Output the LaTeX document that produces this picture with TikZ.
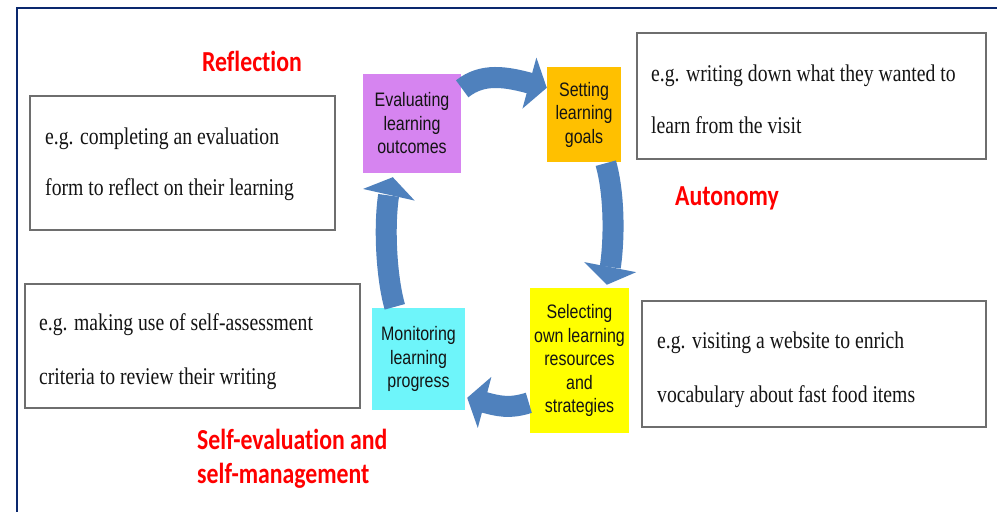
\documentclass[tikz,border=0pt]{standalone}
\usepackage{fontspec}
\setmainfont{Liberation Serif}
\newfontfamily\exfont[FakeStretch=0.82]{Liberation Serif}
\newfontfamily\boxfont[FakeStretch=0.82]{Liberation Sans}
\newfontfamily\headfont[FakeStretch=0.82,Ligatures=NoCommon]{Carlito}
\usetikzlibrary{arrows.meta,calc,bending}
\definecolor{arrowblue}{RGB}{79,129,189}
\definecolor{evalpurple}{RGB}{214,132,240}
\definecolor{setorange}{RGB}{255,192,0}
\definecolor{selyellow}{RGB}{255,255,0}
\definecolor{moncyan}{RGB}{110,245,250}
\definecolor{boxgray}{RGB}{110,110,110}
\definecolor{framenavy}{RGB}{10,40,110}
\definecolor{txtdark}{RGB}{20,20,20}
\begin{document}
\begin{tikzpicture}[x=1pt,y=-1pt,
  stepnode/.style={rectangle, inner sep=0pt, align=center, text=txtdark,
    font=\boxfont\fontsize{19.5}{23.5}\selectfont},
  exbox/.style={draw=boxgray, line width=1.5pt, inner sep=0pt, anchor=north west},
  extext/.style={inner sep=0pt, align=left, text=txtdark, anchor=base west},
  headtext/.style={inner sep=0pt, text=red, font=\headfont\bfseries\fontsize{29}{34}\selectfont},
  cyclearrow/.style={draw=arrowblue, line width=21pt, -{Triangle[length=18pt,width=52pt]}}]
\fill[white] (0,0) rectangle (997,512);
\useasboundingbox (0,0) rectangle (997,512);
\draw[framenavy, line width=2.3pt] (997,8) -- (17,8) -- (17,512);

% example boxes
\node[exbox, minimum width=305pt, minimum height=134pt] (b1) at (29,95) {};
\node[exbox, minimum width=349pt, minimum height=126pt] (b2) at (636,32) {};
\node[exbox, minimum width=335pt, minimum height=124pt] (b3) at (24,283) {};
\node[exbox, minimum width=344pt, minimum height=126pt] (b4) at (641,300) {};

% (anchor = baseline of the last line)
\node[extext, font=\exfont\fontsize{24}{51}\selectfont] (t1) at (45,195)
  {e.g. completing an evaluation\\form to reflect on their learning};
\node[extext, font=\exfont\fontsize{24}{52}\selectfont] (t2) at (651,133)
  {e.g. writing down what they wanted to\\learn from the visit};
\node[extext, font=\exfont\fontsize{24}{54}\selectfont] (t3) at (39,384)
  {e.g. making use of self-assessment\\criteria to review their writing};
\node[extext, font=\exfont\fontsize{24}{54}\selectfont] (t4) at (657,402)
  {e.g. visiting a website to enrich\\vocabulary about fast food items};

% headings
\node[headtext, anchor=base] (h1) at (252,71) {Reflection};
\node[headtext, anchor=base] (h2) at (727,205) {Autonomy};
\node[headtext, anchor=base west, align=left] (h3) at (197,483) {Self-evaluation and\\self-management};

% cycle steps
\node[stepnode, fill=evalpurple, minimum width=98pt, minimum height=99pt] (eval) at (412,123.5)
  {Evaluating\\learning\\outcomes};
\node[stepnode, fill=setorange, minimum width=74pt, minimum height=95pt] (set) at (584,114.5)
  {Setting\\learning\\goals};
\node[stepnode, fill=selyellow, minimum width=99pt, minimum height=145pt] (sel) at (579.5,360.5)
  {Selecting\\own learning\\resources\\and\\strategies};
\node[stepnode, fill=moncyan, minimum width=93pt, minimum height=102pt] (mon) at (418.5,359)
  {Monitoring\\learning\\progress};

% arrows
\draw[cyclearrow] ($(eval.north east)+(1,15)$) .. controls +(25,-20) and +(-30,-8) .. ($(set.north west)+(0,21)$);
\draw[cyclearrow] ($(set.south west)+(59,1)$) .. controls +(10,35) and +(8,-30) .. ($(sel.north west)+(77,-3)$);
\draw[cyclearrow] ($(sel.north west)+(-1,115)$) .. controls +(-25,8) and +(25,6) .. ($(mon.north east)+(2,90)$);
\draw[cyclearrow] ($(mon.north west)+(23,-1)$) .. controls +(-10,-35) and +(-10,28) .. ($(eval.south west)+(30,4)$);
\end{tikzpicture}
\end{document}
